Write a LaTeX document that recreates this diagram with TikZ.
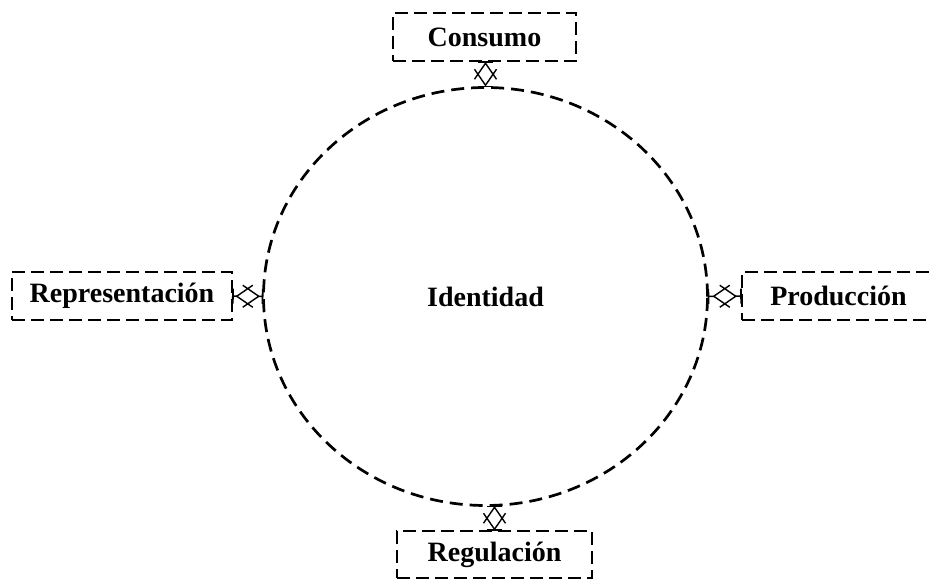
\documentclass[tikz,border=0pt]{standalone}
\usepackage{fontspec}
\setmainfont{Liberation Serif}
\usetikzlibrary{shapes.geometric,arrows.meta,calc}
\begin{document}
\begin{tikzpicture}[x=1pt,y=-1pt,
  dashbox/.style={draw,line width=2.7pt,dash pattern=on 13pt off 6pt,rectangle,inner sep=0pt,outer sep=0pt,font=\fontsize{28}{32}\selectfont\bfseries},
  dashell/.style={draw,line width=2.7pt,dash pattern=on 13pt off 7pt,ellipse,inner sep=0pt,outer sep=0pt,font=\fontsize{28}{32}\selectfont\bfseries},
  conn/.style={line width=1.5pt,{Bar[width=15pt,line width=1.8pt]}-{Bar[width=15pt,line width=1.8pt]}},
  chev/.pic={\fill[white] (-11,0) -- (0,7.6) -- (11,0) -- (0,-7.6) -- cycle;
    \draw[line width=1.4pt] (-11,0) -- (5,11) (-11,0) -- (5,-11) (11,0) -- (-5,11) (11,0) -- (-5,-11);}
]
\useasboundingbox (0,0) rectangle (929,580);
\node[dashell,minimum width=444pt,minimum height=418pt] (ident) at (485.5,296.5) {Identidad};
\node[dashbox,minimum width=183pt,minimum height=48pt] (cons) at (484.5,37) {Consumo};
\node[dashbox,minimum width=220pt,minimum height=48pt] (rep) at (122,296) {Representación};
\node[dashbox,minimum width=193pt,minimum height=48pt] (prod) at (838.5,296) {Producción};
\node[dashbox,minimum width=195pt,minimum height=47pt] (reg) at (494.5,554.5) {Regulación};
\coordinate (c1) at (ident.north |- cons.south);
\coordinate (c3) at (ident.south -| reg.north);
\draw[conn] (c1) -- (ident.north);
\draw[conn] (rep.east) -- (ident.west);
\draw[conn] (ident.east) -- (prod.west);
\draw[conn] (c3) -- (reg.north);
\pic[rotate=90] at ($(c1)!0.5!(ident.north)$) {chev};
\pic at ($(rep.east)!0.5!(ident.west)$) {chev};
\pic at ($(ident.east)!0.5!(prod.west)$) {chev};
\pic[rotate=90] at ($(c3)!0.5!(reg.north)$) {chev};
\end{tikzpicture}
\end{document}
